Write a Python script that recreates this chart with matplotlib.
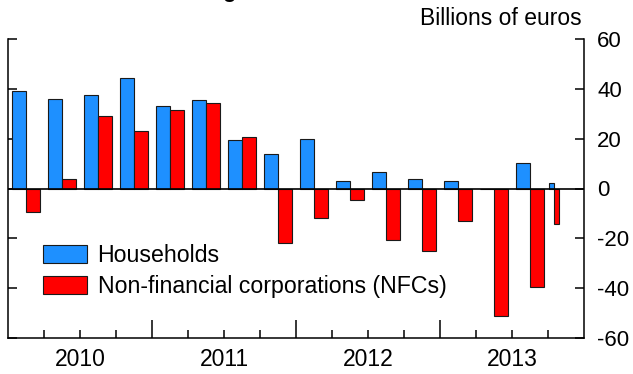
import matplotlib
matplotlib.use("Agg")
import matplotlib.pyplot as plt
import matplotlib.transforms as mtransforms
import numpy as np

plt.rcParams['font.family'] = ['Liberation Sans', 'DejaVu Sans']
plt.rcParams['axes.unicode_minus'] = False

# Periods: quarters 2010Q1..2013Q3 and the month of October 2013
periods = ['2010Q1', '2010Q2', '2010Q3', '2010Q4',
           '2011Q1', '2011Q2', '2011Q3', '2011Q4',
           '2012Q1', '2012Q2', '2012Q3', '2012Q4',
           '2013Q1', '2013Q2', '2013Q3', '2013M10']
households = [39.3, 36.0, 37.6, 44.3, 33.1, 35.7, 19.4, 14.0,
              19.9, 3.2, 6.6, 3.9, 3.2, 0.0, 10.4, 2.3]
nfcs = [-9.3, 3.9, 29.0, 22.9, 31.4, 34.2, 20.5, -21.8,
        -12.0, -4.6, -20.6, -25.2, -13.1, -51.3, -39.6, -14.3]
years = ['2010', '2011', '2012', '2013']
series_names = ['Households', 'Non-financial corporations (NFCs)']
yticks = [-60, -40, -20, 0, 20, 40, 60]

BLUE = '#1E90FF'
RED = '#FF0000'

def period_span(p):
    y = int(p[:4])
    base = (y - 2010) * 12
    if 'Q' in p:
        q = int(p[5:])
        return base + (q - 1) * 3, 3
    m = int(p[5:])
    return base + (m - 1), 1

starts = np.array([period_span(p)[0] for p in periods], dtype=float)
lengths = np.array([period_span(p)[1] for p in periods], dtype=float)
centers = starts + lengths / 2
widths = lengths * 0.4

fig = plt.figure(figsize=(6.33, 3.74), dpi=100)
W, H = 633, 374
ax = fig.add_axes([8 / W, (H - 338) / H, (584 - 8) / W, (338 - 39) / H])

ax.bar(centers - widths, households, width=widths, align='edge', color=BLUE,
       edgecolor='#1a1a1a', linewidth=0.8, label=series_names[0], zorder=2)
ax.bar(centers, nfcs, width=widths, align='edge', color=RED,
       edgecolor='#1a1a1a', linewidth=0.8, label=series_names[1], zorder=2)
ax.axhline(0, color='black', lw=1.2, zorder=3)

ax.set_xlim(0, 48)
ax.set_ylim(-60, 60)

ax.spines['top'].set_visible(False)
for s in ['left', 'right', 'bottom']:
    ax.spines[s].set_linewidth(1.1)

# y axis
ax.set_yticks(yticks)
ax.yaxis.set_ticks_position('both')
ax.tick_params(axis='y', direction='in', length=6.3, width=1.1,
               labelleft=False, labelright=True, labelsize=16, pad=9.5)
for t in ax.yaxis.get_major_ticks():
    if t.get_loc() == 60:
        t.tick1line.set_markersize(13)
        t.tick2line.set_markersize(13)

# x axis: year boundaries (major) and quarters (minor)
ax.set_xticks([12, 24, 36])
ax.set_xticks([q for q in range(3, 48, 3) if q % 12 != 0], minor=True)
ax.tick_params(axis='x', which='major', direction='in', length=13, width=1.1,
               labelbottom=False)
ax.tick_params(axis='x', which='minor', direction='in', length=6, width=1.1)

trans = mtransforms.blended_transform_factory(ax.transData, ax.transAxes)
for i, yl in enumerate(years):
    ax.text(i * 12 + 6, -22 / 299, yl, transform=trans, ha='center',
            va='center', fontsize=16.5)

fig.text(582 / W, 1 - 25 / H, 'Billions of euros', ha='right',
         va='baseline', fontsize=16.5)
# clipped remnant of the title at the very top
fig.text(228.5 / W, 1 + 3.0 / H, 'g', ha='center', va='baseline',
         fontsize=16, fontweight='bold')

leg = ax.legend(loc='upper left', bbox_to_anchor=((43 - 8) / 576, (338 - 244) / 299),
                frameon=False, fontsize=16.7, handlelength=1.9,
                handleheight=0.85, handletextpad=0.45, labelspacing=0.35,
                borderpad=0, borderaxespad=0)

fig.savefig('out.png', dpi=100)
